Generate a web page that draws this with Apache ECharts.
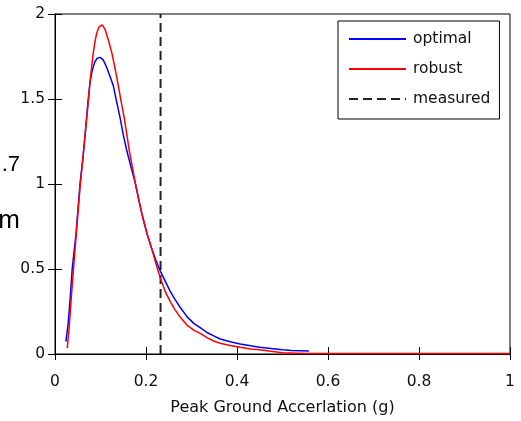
<!DOCTYPE html>
<html>
<head>
<meta charset="utf-8">
<script src="https://cdn.jsdelivr.net/npm/echarts@6/dist/echarts.min.js"></script>
<style>
  html, body { margin: 0; padding: 0; background: #fff; }
  #main { width: 521px; height: 421px; }
</style>
</head>
<body>
<div id="main"></div>
<script>
// values
var optimalX = [0.024, 0.029, 0.034, 0.038, 0.046, 0.055, 0.062, 0.0675, 0.072, 0.077, 0.082, 0.087, 0.092, 0.099,
  0.106, 0.113, 0.120, 0.128, 0.135, 0.143, 0.150, 0.1575, 0.167, 0.1765, 0.184, 0.192, 0.202, 0.2125, 0.222, 0.231,
  0.242, 0.253, 0.264, 0.275, 0.290, 0.305, 0.319, 0.335, 0.350, 0.363, 0.385, 0.407, 0.430, 0.450, 0.470, 0.490,
  0.500, 0.520, 0.558]
var optimalY = [0.073, 0.18, 0.35, 0.507, 0.70, 1.0, 1.17, 1.33, 1.47, 1.60, 1.67, 1.715, 1.738, 1.745,
  1.73, 1.69, 1.64, 1.58, 1.49, 1.39, 1.29, 1.20, 1.10, 1.005, 0.91, 0.813, 0.71, 0.62, 0.55, 0.49,
  0.43, 0.37, 0.32, 0.275, 0.22, 0.18, 0.155, 0.125, 0.105, 0.088, 0.072, 0.059, 0.048, 0.04, 0.034, 0.028,
  0.025, 0.02, 0.018]

var robustX = [0.027, 0.031, 0.035, 0.040, 0.046, 0.055, 0.062, 0.068, 0.073, 0.077, 0.081, 0.084, 0.088, 0.092,
  0.097, 0.104, 0.110, 0.117, 0.125, 0.132, 0.139, 0.145, 0.152, 0.158, 0.163, 0.170, 0.1765, 0.184, 0.192, 0.202,
  0.2125, 0.222, 0.231, 0.242, 0.253, 0.264, 0.275, 0.290, 0.305, 0.319, 0.335, 0.350, 0.363, 0.385, 0.407, 0.430,
  0.450, 0.470, 0.500, 0.550, 1.0]
var robustY = [0.035, 0.15, 0.30, 0.48, 0.68, 0.98, 1.17, 1.34, 1.48, 1.60, 1.70, 1.77, 1.84, 1.89,
  1.925, 1.936, 1.91, 1.85, 1.77, 1.68, 1.58, 1.49, 1.39, 1.29, 1.20, 1.10, 1.005, 0.91, 0.813, 0.71,
  0.62, 0.53, 0.45, 0.37, 0.31, 0.26, 0.217, 0.17, 0.14, 0.121, 0.095, 0.075, 0.063, 0.05, 0.04, 0.03,
  0.025, 0.018, 0.008, 0.003, 0.003]

var measuredX = 0.232
var xTicks = [0, 0.2, 0.4, 0.6, 0.8, 1]
var yTicks = [0, 0.5, 1, 1.5, 2]

function zip(xs, ys) {
  return xs.map(function (x, i) { return [x, ys[i]] })
}

var font = 'DejaVu Sans'
var myChart = echarts.init(document.getElementById('main'))

myChart.setOption({
  animation: false,
  backgroundColor: '#fff',
  grid: {
    left: 55, top: 14, right: 11, bottom: 60,
    show: true, borderColor: '#000', borderWidth: 1, backgroundColor: '#fff'
  },
  legend: {
    orient: 'vertical',
    left: 338, top: 21,
    padding: [10, 9, 12, 10],
    itemGap: 14,
    itemWidth: 57,
    itemHeight: 16,
    backgroundColor: '#fff',
    borderColor: '#000',
    borderWidth: 1,
    borderRadius: 0,
    itemStyle: { opacity: 0 },
    textStyle: { fontFamily: font, fontSize: 15.5, color: '#111', lineHeight: 16, padding: [0, 0, 0, 2] },
    data: ['optimal', 'robust', 'measured']
  },
  xAxis: [
    {
      type: 'value', min: 0, max: 1, interval: 0.2,
      name: 'Peak Ground Accerlation (g)',
      nameLocation: 'middle', nameGap: 46,
      nameTextStyle: { fontFamily: font, fontSize: 16, color: '#111' },
      axisLine: { show: true, onZero: false, lineStyle: { color: '#000' } },
      axisTick: { inside: true, length: 7, lineStyle: { color: '#000' } },
      axisLabel: { fontFamily: font, fontSize: 15.5, color: '#111', margin: 20 },
      splitLine: { show: false }
    },
    {
      type: 'value', min: 0, max: 1, interval: 0.2, position: 'top',
      axisLine: { show: true, lineStyle: { color: '#000' } },
      axisTick: { inside: true, length: 6, lineStyle: { color: '#000' } },
      axisLabel: { show: false },
      splitLine: { show: false }
    }
  ],
  yAxis: [
    {
      type: 'value', min: 0, max: 2, interval: 0.5,
      axisLine: { show: true, onZero: false, lineStyle: { color: '#000' } },
      axisTick: { inside: true, length: 7, lineStyle: { color: '#000' } },
      axisLabel: { fontFamily: font, fontSize: 15.5, color: '#111', margin: 10 },
      splitLine: { show: false }
    },
    {
      type: 'value', min: 0, max: 2, interval: 0.5, position: 'right',
      axisLine: { show: true, lineStyle: { color: '#000' } },
      axisTick: { inside: true, length: 7, lineStyle: { color: '#000' } },
      axisLabel: { show: false },
      splitLine: { show: false }
    }
  ],
  graphic: [
    { type: 'text', right: 501, top: 154, style: { text: '.7', font: '22px "Liberation Sans"', fill: '#000' } },
    { type: 'text', right: 501, top: 208, style: { text: 'm', font: '26px "Liberation Sans"', fill: '#000' } }
  ],
  series: [
    {
      name: 'optimal', type: 'line', data: zip(optimalX, optimalY),
      showSymbol: false, symbol: 'none', clip: false, z: 3,
      color: '#0000ff',
      lineStyle: { color: '#0000ff', width: 1.5 }
    },
    {
      name: 'robust', type: 'line', data: zip(robustX, robustY),
      showSymbol: false, symbol: 'none', clip: false, z: 4,
      color: '#ff0000',
      lineStyle: { color: '#ff0000', width: 1.5 }
    },
    {
      name: 'measured', type: 'line', data: [[measuredX, 0], [measuredX, 2]],
      showSymbol: false, symbol: 'none', z: 2,
      color: '#222',
      lineStyle: { color: '#222', width: 2, type: [9, 5] }
    }
  ]
})
window.addEventListener('resize', function () {
  myChart.resize()
})
</script>
</body>
</html>
